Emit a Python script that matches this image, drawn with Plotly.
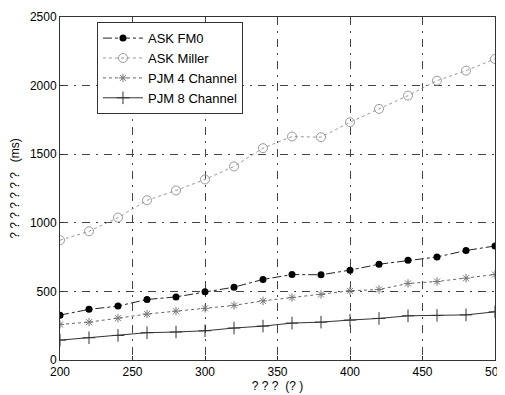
import plotly.graph_objects as go

x_vals = [200, 220, 240, 260, 280, 300, 320, 340, 360, 380, 400, 420, 440, 460, 480, 500]
ask_fm0 = [327, 369, 393, 441, 460, 497, 531, 587, 623, 621, 655, 698, 727, 751, 798, 831]
ask_miller = [873, 938, 1038, 1164, 1236, 1316, 1411, 1544, 1629, 1624, 1733, 1830, 1927, 2036, 2109, 2194]
pjm4 = [259, 276, 305, 335, 356, 376, 398, 431, 456, 478, 504, 514, 558, 572, 596, 623]
pjm8 = [145, 162, 179, 199, 204, 213, 233, 247, 269, 276, 291, 303, 322, 325, 329, 351]

x_ticks = [200, 250, 300, 350, 400, 450, 500]
y_ticks = [0, 500, 1000, 1500, 2000, 2500]

FONT = "Liberation Sans, Arial"

fig = go.Figure()
fig.add_trace(go.Scatter(x=x_vals, y=ask_fm0, name="ASK FM0", mode="lines+markers",
                         line=dict(color="#222", width=1, dash="dashdot"),
                         marker=dict(symbol="circle", size=7, color="black")))
fig.add_trace(go.Scatter(x=x_vals, y=ask_miller, name="ASK Miller", mode="lines+markers",
                         line=dict(color="#999", width=1, dash="dot"),
                         marker=dict(symbol="circle-open", size=9, color="#999", line=dict(width=1))))
fig.add_trace(go.Scatter(x=x_vals, y=pjm4, name="PJM 4 Channel", mode="lines+markers",
                         line=dict(color="#666", width=1, dash="dot"),
                         marker=dict(symbol="asterisk-open", size=7, color="#777", line=dict(width=1))))
fig.add_trace(go.Scatter(x=x_vals, y=pjm8, name="PJM 8 Channel", mode="lines+markers",
                         line=dict(color="#333", width=1),
                         marker=dict(symbol="cross-thin-open", size=9, color="#333", line=dict(width=1))))

axis_common = dict(showline=True, linecolor="#333", linewidth=1, mirror=True,
                   showgrid=True, gridcolor="#444", gridwidth=1, griddash="8px,6px,2px,6px",
                   ticks="inside", ticklen=4, tickcolor="#333",
                   tickfont=dict(family=FONT, size=12, color="black"),
                   zeroline=False, automargin=False, ticklabeloverflow="allow")

# Page body has an 8px margin, so the figure is sized to fit the 505x395 window.
fig.update_layout(
    width=497, height=387,
    margin=dict(l=52, r=10, t=9, b=35),
    paper_bgcolor="white", plot_bgcolor="white",
    font=dict(family=FONT, size=12, color="black"),
    xaxis=dict(range=[200, 500], tickvals=x_ticks, ticklabelstandoff=1, **axis_common,
               title=dict(text="? ? ?  (? )", font=dict(family=FONT, size=12, color="black"), standoff=3)),
    yaxis=dict(range=[0, 2500], tickvals=y_ticks, **axis_common,
               title=dict(text="? ? ? ? ? ? ?   (ms)", font=dict(family=FONT, size=12, color="black"), standoff=7)),
    legend=dict(x=0.085, y=0.985, xanchor="left", yanchor="top",
                bgcolor="white", bordercolor="#333", borderwidth=1,
                font=dict(family=FONT, size=13, color="black"), tracegroupgap=0, itemwidth=40),
    showlegend=True,
)

fig.write_html("out.html")
